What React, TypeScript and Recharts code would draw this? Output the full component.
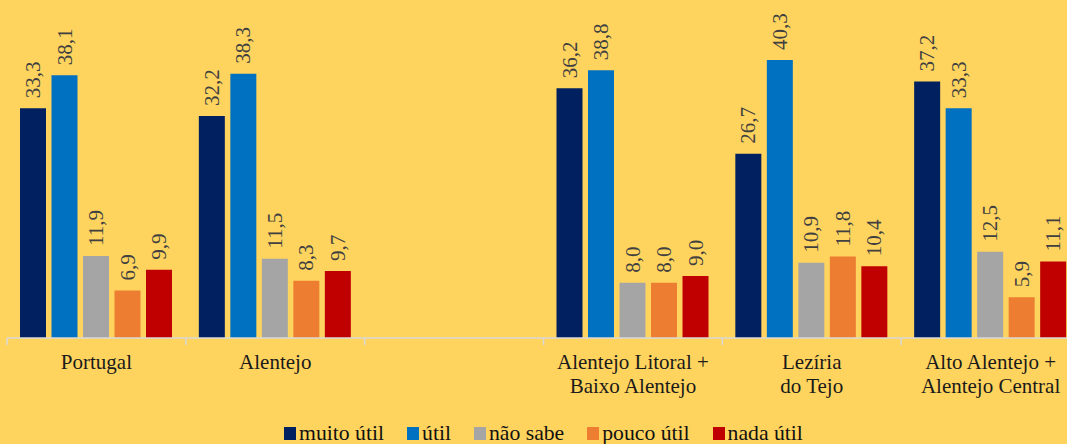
import React from 'react';
import { BarChart, Bar, XAxis, YAxis, Legend, LabelList } from 'recharts';

const categories = [
  'Portugal',
  'Alentejo',
  '',
  'Alentejo Litoral +\nBaixo Alentejo',
  'Lezíria\ndo Tejo',
  'Alto Alentejo +\nAlentejo Central',
];

const muitoUtil = [33.3, 32.2, null, 36.2, 26.7, 37.2];
const util = [38.1, 38.3, null, 38.8, 40.3, 33.3];
const naoSabe = [11.9, 11.5, null, 8.0, 10.9, 12.5];
const poucoUtil = [6.9, 8.3, null, 8.0, 11.8, 5.9];
const nadaUtil = [9.9, 9.7, null, 9.0, 10.4, 11.1];

const series = [
  { key: 'muito', name: 'muito útil', color: '#002060', values: muitoUtil },
  { key: 'util', name: 'útil', color: '#0070C0', values: util },
  { key: 'nao', name: 'não sabe', color: '#A5A5A5', values: naoSabe },
  { key: 'pouco', name: 'pouco útil', color: '#ED7D31', values: poucoUtil },
  { key: 'nada', name: 'nada útil', color: '#C00000', values: nadaUtil },
];

const data = categories.map((c, i) => {
  const row: any = { cat: c };
  series.forEach((s) => (row[s.key] = s.values[i]));
  return row;
});

const FONT = '"Liberation Serif", "Times New Roman", serif';
const BG = '#FFD45E';
const AXIS = '#D9D9D9';
const BAND = 178.8;

const fmt = (v: any) => (v == null ? '' : Number(v).toFixed(1).replace('.', ','));

function CatTick(props: any) {
  const { x, y, payload } = props;
  const lines = String(payload.value).split('\n');
  return (
    <g transform={`translate(${x},${y})`}>
      <line x1={-BAND / 2} y1={0} x2={-BAND / 2} y2={7} stroke={AXIS} strokeWidth={1.5} />
      <text textAnchor="middle" fontFamily={FONT} fontSize={21} fill="#1a1a1a">
        {lines.map((l, i) => (
          <tspan key={i} x={0} y={31 + i * 24}>{l}</tspan>
        ))}
      </text>
    </g>
  );
}

function ValueLabel(props: any) {
  const { x, y, width, value } = props;
  if (value == null) return null;
  const cx = x + width / 2;
  const cy = y - 10;
  return (
    <text
      x={cx}
      y={cy}
      dy="0.34em"
      transform={`rotate(-90, ${cx}, ${cy})`}
      textAnchor="start"
      fontFamily={FONT}
      fontSize={21}
      fill="#404040"
    >
      {fmt(value)}
    </text>
  );
}

function LegendBox() {
  return (
    <div style={{ display: 'flex', justifyContent: 'center', alignItems: 'center', gap: 23, fontFamily: FONT, fontSize: 21.7, color: '#111', paddingLeft: 20 }}>
      {series.map((s) => (
        <div key={s.key} style={{ display: 'flex', alignItems: 'center' }}>
          <span style={{ display: 'inline-block', width: 12, height: 13, background: s.color, marginRight: 3 }} />
          <span>{s.name}</span>
        </div>
      ))}
    </div>
  );
}

export default function App() {
  return (
    <div style={{ position: 'fixed', left: 0, top: 0, width: 1067, height: 444, background: BG, overflow: 'hidden' }}>
      <BarChart
        width={1080}
        height={444}
        data={data}
        margin={{ top: 0, right: 0, bottom: 0, left: 7 }}
        barSize={26}
        barGap={5.5}
      >
        <XAxis
          dataKey="cat"
          interval={0}
          height={106}
          tickSize={0}
          tickMargin={0}
          tickLine={false}
          axisLine={{ stroke: AXIS, strokeWidth: 1.5 }}
          tick={<CatTick />}
        />
        <YAxis hide domain={[0, 49]} />
        <Legend
          layout="horizontal"
          verticalAlign="middle"
          align="center"
          content={<LegendBox />}
          wrapperStyle={{ top: 421, left: 0, width: 1067, height: 26 }}
        />
        {series.map((s) => (
          <Bar key={s.key} dataKey={s.key} name={s.name} fill={s.color} isAnimationActive={false}>
            <LabelList dataKey={s.key} content={<ValueLabel />} />
          </Bar>
        ))}
      </BarChart>
    </div>
  );
}
